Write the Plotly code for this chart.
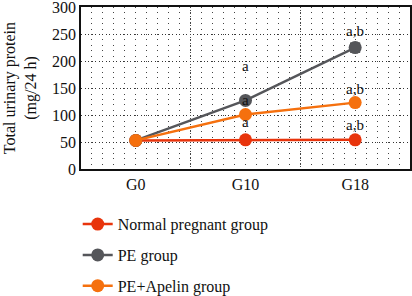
import plotly.graph_objects as go

categories = ["G0", "G10", "G18"]
x_pos = [0, 1, 2]
normal = [53, 54, 54]
pe = [53, 127, 225]
pe_err = [0, 3, 8]
pe_apelin = [53, 101, 123]

ann_x = [1, 1, 1, 2, 2, 2]
ann_y = [191, 127, 88, 256, 149, 81]
ann_text = ["a", "a", "a", "a,b", "a,b", "a,b"]

y_title = "Total urinary protein<br>(mg/24 h)"

c_red = "#E8340C"
c_gray = "#55565A"
c_orange = "#F5700E"
FF = "Liberation Serif"

fig = go.Figure()
series = [
    ("Normal pregnant group", normal, None, c_red),
    ("PE group", pe, pe_err, c_gray),
    ("PE+Apelin group", pe_apelin, None, c_orange),
]
for i, (name, vals, err, col) in enumerate(series):
    fig.add_trace(go.Scatter(
        x=x_pos, y=vals, name=name, mode="lines+markers",
        line=dict(color=col, width=2.5),
        marker=dict(color=col, size=13),
        error_y=dict(type="data", array=err, color="#222", thickness=1.5, width=5) if err else None,
        legendgroup=str(i),
    ))

# category boundary grid on an overlaying axis
fig.add_trace(go.Scatter(x=[0.5, 1.5], y=[None, None], xaxis="x2", showlegend=False, hoverinfo="skip"))

for xa, ya, t in zip(ann_x, ann_y, ann_text):
    fig.add_annotation(x=xa, y=ya, text=t, showarrow=False,
                       font=dict(family=FF, size=15, color="#111"))

fig.add_annotation(x=-0.185, y=0.5, xref="paper", yref="paper", text=y_title, textangle=-90,
                   xanchor="center", yanchor="middle",
                   showarrow=False, font=dict(family=FF, size=16, color="#111"))

fig.update_layout(
    width=412, height=296,
    margin=dict(l=81, r=2, t=7, b=127),
    paper_bgcolor="white", plot_bgcolor="white",
    font=dict(family=FF, size=16, color="#111"),
    xaxis=dict(
        range=[-0.5, 2.5], tickvals=x_pos, ticktext=categories, automargin=False,
        showgrid=False, zeroline=False,
        showline=True, linecolor="#111", linewidth=1.5, mirror=True,
        ticks="", tickfont=dict(family=FF, size=16, color="#111"),
        minor=dict(dtick=0.1, tick0=0, showgrid=True, gridcolor="#444",
                   griddash="1px,4.41px", gridwidth=1),
    ),
    xaxis2=dict(
        overlaying="x", range=[-0.5, 2.5], tickvals=[0.5, 1.5], showticklabels=False,
        automargin=False,
        showgrid=True, gridcolor="#444", griddash="1px,2px", gridwidth=1, zeroline=False, ticks="",
    ),
    yaxis=dict(
        range=[0, 300.2], tickvals=[0, 50, 100, 150, 200, 250, 300], automargin=False,
        ticklabeloverflow="allow",
        showgrid=True, gridcolor="#333", griddash="1px,2.5px", gridwidth=1,
        zeroline=False, showline=True, linecolor="#111", linewidth=1.5, mirror=True,
        ticks="", tickfont=dict(family=FF, size=16, color="#111"),
    ),
    legend=dict(
        orientation="v", x=-0.01, xref="paper", y=0.30, yref="container",
        xanchor="left", yanchor="top",
        font=dict(family=FF, size=16, color="#111"), tracegroupgap=7, bgcolor="rgba(0,0,0,0)",
    ),
)

fig.write_html("out.html", config={"displayModeBar": False},
               post_script="document.body.style.margin='0px';")
